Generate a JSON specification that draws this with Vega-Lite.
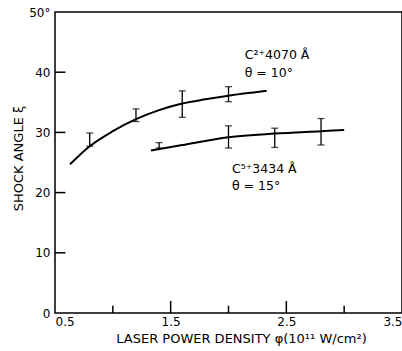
{
  "$schema": "https://vega.github.io/schema/vega-lite/v6.json",
  "width": 347,
  "height": 301,
  "autosize": {"type": "none"},
  "padding": {"left": 55, "top": 12, "right": 0, "bottom": 38},
  "background": "white",
  "config": {
    "view": {"stroke": "black", "strokeWidth": 1.5},
    "font": "DejaVu Sans",
    "axis": {"grid": false, "domain": false, "ticks": false, "labelColor": "black", "titleColor": "black", "labelFont": "DejaVu Sans", "titleFont": "DejaVu Sans", "titleFontWeight": "normal", "labelFontSize": 12, "titleFontSize": 13}
  },
  "datasets": {
    "curves": [
      {"series": "C2", "x": 0.63, "y": 24.7},
      {"series": "C2", "x": 0.8, "y": 27.7},
      {"series": "C2", "x": 1.0, "y": 30.2},
      {"series": "C2", "x": 1.2, "y": 32.2},
      {"series": "C2", "x": 1.4, "y": 33.7},
      {"series": "C2", "x": 1.6, "y": 34.8},
      {"series": "C2", "x": 1.8, "y": 35.5},
      {"series": "C2", "x": 2.0, "y": 36.1},
      {"series": "C2", "x": 2.2, "y": 36.6},
      {"series": "C2", "x": 2.33, "y": 36.9},
      {"series": "C5", "x": 1.33, "y": 27.0},
      {"series": "C5", "x": 1.6, "y": 27.9},
      {"series": "C5", "x": 2.0, "y": 29.2},
      {"series": "C5", "x": 2.4, "y": 29.8},
      {"series": "C5", "x": 2.8, "y": 30.2},
      {"series": "C5", "x": 3.0, "y": 30.4}
    ],
    "errors": [
      {"series": "C2", "x": 0.8, "lo": 27.7, "hi": 29.9},
      {"series": "C2", "x": 1.2, "lo": 31.8, "hi": 33.9},
      {"series": "C2", "x": 1.6, "lo": 32.5, "hi": 36.9},
      {"series": "C2", "x": 2.0, "lo": 35.1, "hi": 37.6},
      {"series": "C5", "x": 1.4, "lo": 27.4, "hi": 28.3},
      {"series": "C5", "x": 2.0, "lo": 27.4, "hi": 31.1},
      {"series": "C5", "x": 2.4, "lo": 27.5, "hi": 30.7},
      {"series": "C5", "x": 2.8, "lo": 27.9, "hi": 32.3}
    ],
    "xticks": [
      {"x": 1.0, "y": 0, "y2": 1.2},
      {"x": 1.5, "y": 0, "y2": 2.0},
      {"x": 2.0, "y": 0, "y2": 1.2},
      {"x": 2.5, "y": 0, "y2": 2.0},
      {"x": 3.0, "y": 0, "y2": 1.2}
    ],
    "yticks": [
      {"y": 10, "x": 0.5, "x2": 0.59},
      {"y": 20, "x": 0.5, "x2": 0.59},
      {"y": 30, "x": 0.5, "x2": 0.59},
      {"y": 40, "x": 0.5, "x2": 0.59}
    ],
    "labels": [
      {"x": 2.14, "y": 42.9, "text": "C²⁺4070 Å"},
      {"x": 2.14, "y": 39.9, "text": "θ = 10°"},
      {"x": 2.03, "y": 24.0, "text": "C⁵⁺3434 Å"},
      {"x": 2.03, "y": 21.1, "text": "θ = 15°"}
    ]
  },
  "layer": [
    {
      "data": {"name": "curves"},
      "mark": {"type": "line", "interpolate": "monotone", "color": "black", "strokeWidth": 2},
      "encoding": {
        "x": {"field": "x", "type": "quantitative", "scale": {"domain": [0.5, 3.5], "nice": false, "zero": false},
          "axis": {"values": [0.5, 1.5, 2.5, 3.5], "labelPadding": 3, "labelFlush": true, "format": ".1f",
            "title": "LASER POWER DENSITY  φ(10¹¹ W/cm²)", "titlePadding": 5, "titleX": 186}},
        "y": {"field": "y", "type": "quantitative", "scale": {"domain": [0, 50], "nice": false},
          "axis": {"values": [0, 10, 20, 30, 40, 50], "labelPadding": 5,
            "labelExpr": "datum.value == 50 ? '50°' : datum.label",
            "title": "SHOCK ANGLE  ξ", "titlePadding": 3, "titleY": 146}},
        "detail": {"field": "series"}
      }
    },
    {
      "data": {"name": "errors"},
      "mark": {"type": "rule", "color": "black", "strokeWidth": 1.3},
      "encoding": {
        "x": {"field": "x", "type": "quantitative"},
        "y": {"field": "lo", "type": "quantitative"},
        "y2": {"field": "hi"}
      }
    },
    {
      "data": {"name": "errors"},
      "mark": {"type": "tick", "color": "black", "orient": "horizontal", "size": 7, "thickness": 1.3},
      "encoding": {
        "x": {"field": "x", "type": "quantitative"},
        "y": {"field": "lo", "type": "quantitative"}
      }
    },
    {
      "data": {"name": "errors"},
      "mark": {"type": "tick", "color": "black", "orient": "horizontal", "size": 7, "thickness": 1.3},
      "encoding": {
        "x": {"field": "x", "type": "quantitative"},
        "y": {"field": "hi", "type": "quantitative"}
      }
    },
    {
      "data": {"name": "xticks"},
      "mark": {"type": "rule", "color": "black", "strokeWidth": 1.5},
      "encoding": {
        "x": {"field": "x", "type": "quantitative"},
        "y": {"field": "y", "type": "quantitative"},
        "y2": {"field": "y2"}
      }
    },
    {
      "data": {"name": "yticks"},
      "mark": {"type": "rule", "color": "black", "strokeWidth": 1.5},
      "encoding": {
        "x": {"field": "x", "type": "quantitative"},
        "x2": {"field": "x2"},
        "y": {"field": "y", "type": "quantitative"}
      }
    },
    {
      "data": {"name": "labels"},
      "mark": {"type": "text", "align": "left", "baseline": "middle", "fontSize": 12.5, "color": "black", "font": "DejaVu Sans"},
      "encoding": {
        "x": {"field": "x", "type": "quantitative"},
        "y": {"field": "y", "type": "quantitative"},
        "text": {"field": "text"}
      }
    }
  ]
}
